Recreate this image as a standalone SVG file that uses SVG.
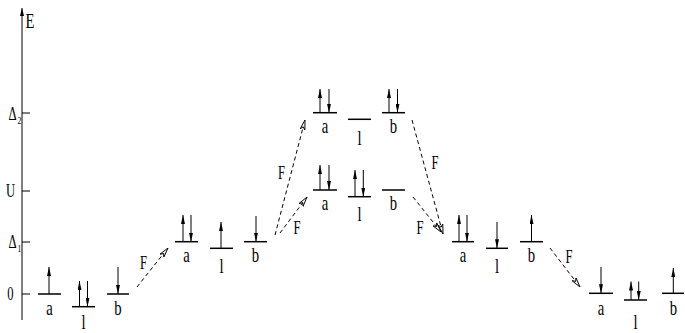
<svg xmlns="http://www.w3.org/2000/svg" width="685" height="333" viewBox="0 0 685 333">
<defs>
<marker id="spin" viewBox="0 0 9 4" refX="9" refY="2" markerWidth="9" markerHeight="4" markerUnits="userSpaceOnUse" orient="auto"><path d="M0,0 L9,2 L0,4 z" fill="#000"/></marker>
<marker id="dash" viewBox="0 0 10 6" refX="10" refY="3" markerWidth="10" markerHeight="6" markerUnits="userSpaceOnUse" orient="auto"><path d="M0,0.5 L10,3 L0,5.5 L3,3 z" fill="#fff" stroke="#000" stroke-width="0.9"/></marker>
<marker id="axh" viewBox="0 0 8 4" refX="8" refY="2" markerWidth="8" markerHeight="4" markerUnits="userSpaceOnUse" orient="auto"><path d="M0,0 L8,2 L0,4 z" fill="#000"/></marker>
</defs>
<style>
.lv{stroke:#000;stroke-width:1.5;fill:none}
.sp{stroke:#000;stroke-width:1;marker-end:url(#spin)}
.cn{stroke:#000;stroke-width:1;stroke-dasharray:4 3;fill:none;marker-end:url(#dash)}
.ax{stroke:#000;stroke-width:1;fill:none}
text{font-family:"Liberation Serif","Times New Roman",serif;fill:#000}
.lb{font-size:21px;text-anchor:middle}
.f{font-size:18px;text-anchor:middle}
.al{font-size:18px;text-anchor:middle}
.sub{font-size:11px;text-anchor:middle}
</style>
<g id="axis">
<line class="ax" x1="22" y1="320" x2="22" y2="8" marker-end="url(#axh)"/>
<line class="ax" x1="22" y1="113" x2="30" y2="113"/>
<line class="ax" x1="22" y1="191" x2="30" y2="191"/>
<line class="ax" x1="22" y1="242" x2="30" y2="242"/>
<line class="ax" x1="22" y1="294" x2="30" y2="294"/>
<text class="al" style="font-size:21px" transform="translate(30,28) scale(0.7,1)">E</text>
<text class="al" transform="translate(12.5,120) scale(0.7,1)">Δ</text>
<text class="sub" transform="translate(19.5,124) scale(0.7,1)">2</text>
<text class="al" transform="translate(10.5,197) scale(0.7,1)">U</text>
<text class="al" transform="translate(12.5,248) scale(0.7,1)">Δ</text>
<text class="sub" transform="translate(19.5,252) scale(0.7,1)">1</text>
<text class="al" transform="translate(10.5,300) scale(0.7,1)">0</text>
</g>
<g id="g0a"><line class="lv" x1="38" y1="294" x2="61" y2="294"/><line class="sp" x1="49" y1="294" x2="49" y2="267"/><text class="lb" transform="translate(49.5,314.5) scale(0.7,1)">a</text></g>
<g id="g0l"><line class="lv" x1="72" y1="306.7" x2="95" y2="306.7"/><line class="sp" x1="79.5" y1="306.7" x2="79.5" y2="281"/><line class="sp" x1="87.5" y1="281" x2="87.5" y2="306.7"/><text class="lb" transform="translate(83.5,329) scale(0.7,1)">l</text></g>
<g id="g0b"><line class="lv" x1="107" y1="294" x2="129" y2="294"/><line class="sp" x1="118" y1="267" x2="118" y2="294"/><text class="lb" transform="translate(118,314.5) scale(0.7,1)">b</text></g>
<g id="g1a"><line class="lv" x1="175" y1="241.7" x2="198" y2="241.7"/><line class="sp" x1="183" y1="241.7" x2="183" y2="215"/><line class="sp" x1="191" y1="215" x2="191" y2="241.7"/><text class="lb" transform="translate(186.5,262) scale(0.7,1)">a</text></g>
<g id="g1l"><line class="lv" x1="210" y1="248.3" x2="233" y2="248.3"/><line class="sp" x1="221" y1="248.3" x2="221" y2="222"/><text class="lb" transform="translate(221.5,273) scale(0.7,1)">l</text></g>
<g id="g1b"><line class="lv" x1="244" y1="241.7" x2="267" y2="241.7"/><line class="sp" x1="256" y1="216" x2="256" y2="241.7"/><text class="lb" transform="translate(255.5,262) scale(0.7,1)">b</text></g>
<g id="gUa"><line class="lv" x1="313" y1="190" x2="337" y2="190"/><line class="sp" x1="320" y1="190" x2="320" y2="165"/><line class="sp" x1="329" y1="165" x2="329" y2="190"/><text class="lb" transform="translate(325,210) scale(0.7,1)">a</text></g>
<g id="gUl"><line class="lv" x1="348" y1="196.7" x2="371" y2="196.7"/><line class="sp" x1="355" y1="196.7" x2="355" y2="170"/><line class="sp" x1="363.3" y1="170" x2="363.3" y2="196.7"/><text class="lb" transform="translate(359.5,221) scale(0.7,1)">l</text></g>
<g id="gUb"><line class="lv" x1="382" y1="190" x2="405" y2="190"/><text class="lb" transform="translate(393.5,210) scale(0.7,1)">b</text></g>
<g id="gD2a"><line class="lv" x1="313" y1="112.7" x2="337" y2="112.7"/><line class="sp" x1="320" y1="112.7" x2="320" y2="89"/><line class="sp" x1="329" y1="89" x2="329" y2="112.7"/><text class="lb" transform="translate(325,132.5) scale(0.7,1)">a</text></g>
<g id="gD2l"><line class="lv" x1="348" y1="119.3" x2="371" y2="119.3"/><text class="lb" transform="translate(359.5,145) scale(0.7,1)">l</text></g>
<g id="gD2b"><line class="lv" x1="382" y1="112.7" x2="405" y2="112.7"/><line class="sp" x1="389" y1="112.7" x2="389" y2="89"/><line class="sp" x1="397.5" y1="89" x2="397.5" y2="112.7"/><text class="lb" transform="translate(393.5,132.5) scale(0.7,1)">b</text></g>
<g id="gR1a"><line class="lv" x1="452" y1="241.7" x2="474" y2="241.7"/><line class="sp" x1="459" y1="241.7" x2="459" y2="215"/><line class="sp" x1="467" y1="215" x2="467" y2="241.7"/><text class="lb" transform="translate(463,262) scale(0.7,1)">a</text></g>
<g id="gR1l"><line class="lv" x1="486" y1="248.3" x2="508" y2="248.3"/><line class="sp" x1="497" y1="222" x2="497" y2="248.3"/><text class="lb" transform="translate(497,273) scale(0.7,1)">l</text></g>
<g id="gR1b"><line class="lv" x1="520" y1="241.7" x2="543" y2="241.7"/><line class="sp" x1="531.5" y1="241.7" x2="531.5" y2="215"/><text class="lb" transform="translate(531.5,262) scale(0.7,1)">b</text></g>
<g id="gR0a"><line class="lv" x1="589" y1="293.3" x2="613" y2="293.3"/><line class="sp" x1="601" y1="267" x2="601" y2="293.3"/><text class="lb" transform="translate(601,314.5) scale(0.7,1)">a</text></g>
<g id="gR0l"><line class="lv" x1="624" y1="300" x2="647" y2="300"/><line class="sp" x1="631" y1="300" x2="631" y2="281.5"/><line class="sp" x1="638.7" y1="281.5" x2="638.7" y2="300"/><text class="lb" transform="translate(635.5,329) scale(0.7,1)">l</text></g>
<g id="gR0b"><line class="lv" x1="662" y1="293.3" x2="684" y2="293.3"/><line class="sp" x1="673.3" y1="293.3" x2="673.3" y2="268"/><text class="lb" transform="translate(673.3,314.5) scale(0.7,1)">b</text></g>
<g id="connectors">
<line class="cn" x1="137" y1="287" x2="168" y2="248"/>
<line class="cn" x1="275" y1="235" x2="305" y2="120"/>
<line class="cn" x1="280" y1="233" x2="307" y2="197"/>
<line class="cn" x1="412" y1="120" x2="443" y2="234"/>
<line class="cn" x1="413" y1="197" x2="441" y2="232"/>
<line class="cn" x1="550" y1="248" x2="580" y2="287"/>
<text class="f" transform="translate(143.5,269) scale(0.7,1)">F</text>
<text class="f" transform="translate(281.5,179) scale(0.7,1)">F</text>
<text class="f" transform="translate(297,234) scale(0.7,1)">F</text>
<text class="f" transform="translate(435,169) scale(0.7,1)">F</text>
<text class="f" transform="translate(420,234) scale(0.7,1)">F</text>
<text class="f" transform="translate(569,263) scale(0.7,1)">F</text>
</g>
</svg>
